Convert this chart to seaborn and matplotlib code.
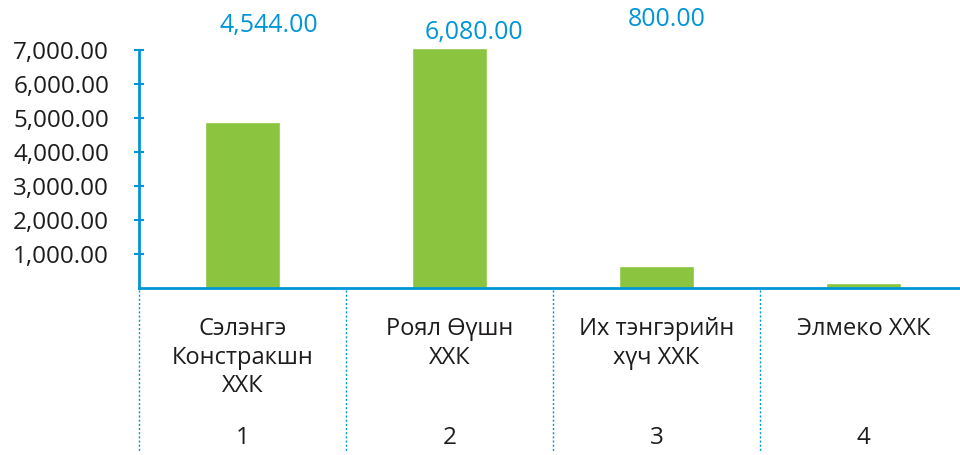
import matplotlib
matplotlib.use("Agg")
import matplotlib.pyplot as plt
import matplotlib.transforms as mtransforms
import seaborn as sns
import pandas as pd

# Data
companies = ["Сэлэнгэ\nКонстракшн\nХХК", "Роял Өүшн\nХХК", "Их тэнгэрийн\nхүч ХХК", "Элмеко ХХК"]
numbers = ["1", "2", "3", "4"]
bar_values = [4880, 7060, 650, 150]
value_labels = ["4,544.00", "6,080.00", "800.00", ""]
y_ticks = [1000, 2000, 3000, 4000, 5000, 6000, 7000]

GREEN = "#8bc43f"
BLUE = "#0096d6"
TEXT = "#1f1c1d"

sns.set_theme(style="white")
plt.rcParams["font.family"] = ["Open Sans", "Noto Sans", "DejaVu Sans"]

df = pd.DataFrame({"company": companies, "value": bar_values})

fig = plt.figure(figsize=(9.6, 4.55), dpi=100)
ax = fig.add_axes([139 / 960, 167 / 455, 1 - 139 / 960, (288 - 50) / 455])

sns.barplot(data=df, x="company", y="value", color=GREEN, saturation=1,
            width=0.36, ax=ax, zorder=2)
for p in ax.patches:
    p.set_clip_on(False)

ax.set_xlim(-0.5, 3.466)
ax.set_ylim(0, 7000)
ax.set_yticks(y_ticks)
ax.set_yticklabels([f"{v:,.2f}" for v in y_ticks], fontsize=17.5, color=TEXT)
ax.set_xlabel("")
ax.set_ylabel("")

for side in ["top", "right"]:
    ax.spines[side].set_visible(False)
for side in ["left", "bottom"]:
    ax.spines[side].set_color(BLUE)
    ax.spines[side].set_linewidth(2)
    ax.spines[side].set_zorder(3)

ax.tick_params(axis="y", left=True, direction="inout", length=7, width=1.5,
               color=BLUE, pad=18)
ax.tick_params(axis="x", bottom=False, length=0, pad=21, labelsize=17, labelcolor=TEXT)
for lbl in ax.get_xticklabels():
    lbl.set_verticalalignment("top")
    lbl.set_linespacing(1.25)

# dotted separators below the axis
trans = mtransforms.blended_transform_factory(ax.transData, ax.transAxes)
h = ax.get_position().height * 455
for xb in [-0.5, 0.5, 1.5, 2.5]:
    ax.plot([xb, xb], [-2 / h, -163 / h], transform=trans, color=BLUE,
            lw=1, ls=(0, (1.5, 1.5)), clip_on=False)

# row of numbers
for i, n in enumerate(numbers):
    ax.text(i, -150 / h, n, transform=trans, ha="center", va="center",
            fontsize=17.5, color=TEXT)

# blue value labels above the bars
offsets = [(26, 25), (24, 18), (10, 31), (0, 0)]
for i, (lab, off) in enumerate(zip(value_labels, offsets)):
    if lab:
        ax.annotate(lab, xy=(i, 1), xycoords=trans, xytext=(off[0] / 1.389, off[1] / 1.389),
                    textcoords="offset points", ha="center", va="center",
                    fontsize=18, color=BLUE, annotation_clip=False)

fig.savefig("out.png", dpi=100, facecolor="white")
